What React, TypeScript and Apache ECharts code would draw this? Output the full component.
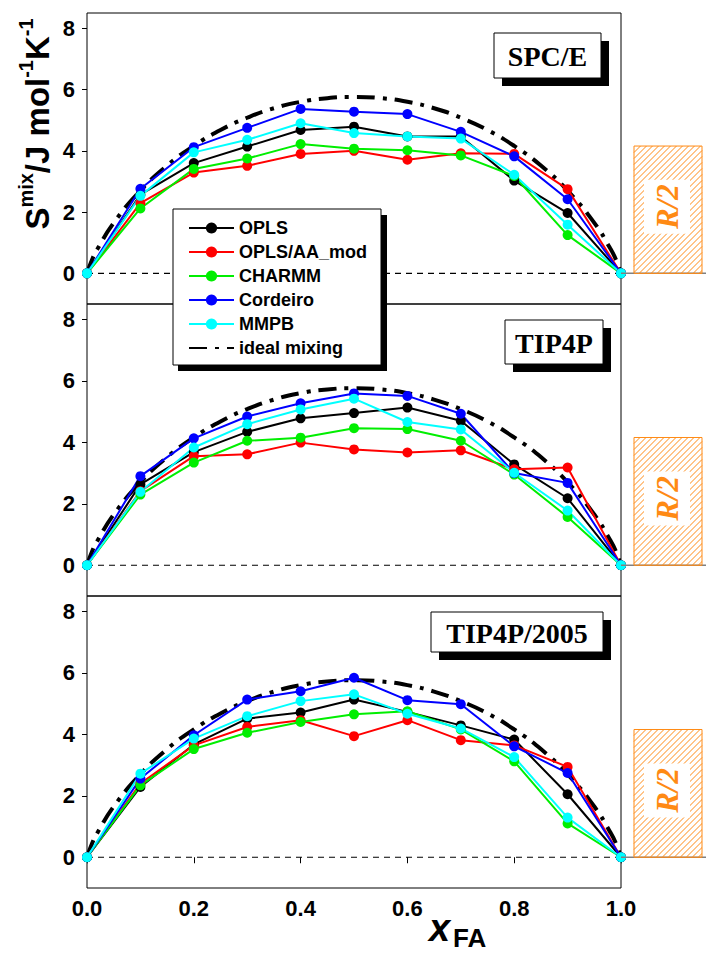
import React, { useEffect, useRef } from "react";
import * as echarts from "echarts";

// ---------------- data ----------------
const xValues = [0, 0.1, 0.2, 0.3, 0.4, 0.5, 0.6, 0.7, 0.8, 0.9, 1.0];
const xTickLabels = ["0.0", "0.2", "0.4", "0.6", "0.8", "1.0"];
const yTickValues = [0, 2, 4, 6, 8];
const seriesNames = ["OPLS", "OPLS/AA_mod", "CHARMM", "Cordeiro", "MMPB"];
const seriesColors = ["#000000", "#ff0000", "#00ee00", "#0000ff", "#00ffff"];
const idealName = "ideal mixing";
const panelNames = ["SPC/E", "TIP4P", "TIP4P/2005"];

// SPC/E panel
const spceOPLS = [0, 2.57, 3.6, 4.14, 4.68, 4.79, 4.47, 4.47, 3.03, 1.97, 0];
const spceAAmod = [0, 2.29, 3.29, 3.51, 3.9, 4.0, 3.71, 3.92, 3.9, 2.75, 0];
const spceCHARMM = [0, 2.12, 3.41, 3.75, 4.22, 4.07, 4.02, 3.85, 3.18, 1.25, 0];
const spceCordeiro = [0, 2.76, 4.12, 4.75, 5.37, 5.28, 5.2, 4.62, 3.82, 2.42, 0];
const spceMMPB = [0, 2.53, 3.95, 4.36, 4.9, 4.58, 4.47, 4.4, 3.22, 1.59, 0];

// TIP4P panel
const tip4pOPLS = [0, 2.63, 3.68, 4.34, 4.78, 4.95, 5.13, 4.7, 3.28, 2.18, 0];
const tip4pAAmod = [0, 2.41, 3.55, 3.61, 3.99, 3.77, 3.67, 3.74, 3.12, 3.18, 0];
const tip4pCHARMM = [0, 2.3, 3.34, 4.05, 4.15, 4.46, 4.43, 4.05, 2.95, 1.57, 0];
const tip4pCordeiro = [0, 2.9, 4.13, 4.84, 5.27, 5.59, 5.51, 4.93, 3.0, 2.68, 0];
const tip4pMMPB = [0, 2.39, 3.83, 4.59, 5.07, 5.42, 4.66, 4.42, 3.01, 1.78, 0];

// TIP4P/2005 panel
const t2005OPLS = [0, 2.29, 3.67, 4.51, 4.71, 5.13, 4.73, 4.29, 3.83, 2.05, 0];
const t2005AAmod = [0, 2.4, 3.64, 4.24, 4.46, 3.94, 4.46, 3.81, 3.64, 2.94, 0];
const t2005CHARMM = [0, 2.34, 3.52, 4.05, 4.4, 4.65, 4.75, 4.16, 3.12, 1.1, 0];
const t2005Cordeiro = [0, 2.56, 3.97, 5.13, 5.4, 5.84, 5.11, 4.98, 3.61, 2.74, 0];
const t2005MMPB = [0, 2.72, 3.86, 4.59, 5.08, 5.3, 4.67, 4.19, 3.26, 1.29, 0];

// ideal mixing curve (same in every panel)
const idealX = [0, 0.01, 0.02, 0.05, 0.1, 0.15, 0.2, 0.25, 0.3, 0.35, 0.4, 0.45, 0.5, 0.55, 0.6, 0.65, 0.7, 0.75, 0.8, 0.85, 0.9, 0.95, 0.98, 0.99, 1.0];
const idealY = [0, 0.47, 0.81, 1.65, 2.7, 3.52, 4.16, 4.68, 5.08, 5.39, 5.6, 5.72, 5.76, 5.72, 5.6, 5.39, 5.08, 4.68, 4.16, 3.52, 2.7, 1.65, 0.81, 0.47, 0];

const halfR = 4.157; // R/2 reference level

const panelData = [
  [spceOPLS, spceAAmod, spceCHARMM, spceCordeiro, spceMMPB],
  [tip4pOPLS, tip4pAAmod, tip4pCHARMM, tip4pCordeiro, tip4pMMPB],
  [t2005OPLS, t2005AAmod, t2005CHARMM, t2005Cordeiro, t2005MMPB],
];

// ---------------- layout ----------------
const gridLeft = 87;
const gridWidth = 534;
const gridTops = [13, 304, 596];
const gridHeights = [291, 292, 292];
const yMin = -1;
const yMax = 8.5;
const sans = "Liberation Sans";
const serif = "Liberation Serif";
const orange = "#ff8a14";

const labelBoxes = [
  { x: 494, y: 33, w: 107, h: 45 },
  { x: 505, y: 320, w: 98, h: 44 },
  { x: 431, y: 612, w: 172, h: 40 },
];

function yPix(p: number, v: number) {
  return gridTops[p] + ((yMax - v) / (yMax - yMin)) * gridHeights[p];
}

// diagonal hatching as one path string (decoration only)
function hatchPath(x0: number, y0: number, w: number, h: number, step: number) {
  const x1 = x0 + w;
  const y1 = y0 + h;
  let d = "";
  const start = Math.floor(x0 + y0) + 0.5 + step;
  for (let c = start; c < x1 + y1; c += step) {
    const xa = Math.max(x0, c - y1);
    const xb = Math.min(x1, c - y0);
    if (xb <= xa) continue;
    d += `M${xa.toFixed(2)} ${(c - xa).toFixed(2)}L${xb.toFixed(2)} ${(c - xb).toFixed(2)}`;
  }
  return d;
}

function buildOption() {
  const grid = gridTops.map((t, i) => ({
    left: gridLeft,
    top: t,
    width: gridWidth,
    height: gridHeights[i],
    show: true,
    borderColor: "#000",
    borderWidth: 1,
    backgroundColor: "transparent",
  }));

  const xAxis = [0, 1, 2].map((i) => ({
    type: "value",
    gridIndex: i,
    min: 0,
    max: 1,
    interval: 0.2,
    axisLine: { show: false },
    splitLine: { show: false },
    axisTick: { show: i === 2, length: 6, lineStyle: { color: "#000" } },
    axisLabel: {
      show: i === 2,
      margin: 9,
      formatter: (v: number) => xTickLabels[Math.round(v * 5)] ?? "",
      fontFamily: sans,
      fontWeight: "bold",
      fontSize: 22,
      color: "#000",
    },
  }));

  const yAxis = [0, 1, 2].map((i) => ({
    type: "value",
    gridIndex: i,
    min: yMin,
    max: yMax,
    axisLine: { show: false },
    splitLine: { show: false },
    axisTick: { show: true, length: 5, customValues: yTickValues, lineStyle: { color: "#000" } },
    axisLabel: {
      show: true,
      customValues: yTickValues,
      margin: 12,
      fontFamily: sans,
      fontWeight: "bold",
      fontSize: 22,
      color: "#000",
    },
  }));

  const series: any[] = [];
  for (let p = 0; p < 3; p++) {
    series.push({
      type: "line",
      name: "zero",
      xAxisIndex: p,
      yAxisIndex: p,
      data: [[0, 0], [1, 0]],
      symbol: "none",
      silent: true,
      lineStyle: { color: "#000", width: 1.2, type: [6, 5] },
      z: 1,
    });
    series.push({
      type: "line",
      name: idealName,
      xAxisIndex: p,
      yAxisIndex: p,
      data: idealX.map((x, i) => [x, idealY[i]]),
      smooth: true,
      symbol: "none",
      lineStyle: { color: "#000", width: 4, type: [18, 8, 4, 8] },
      itemStyle: { color: "rgba(0,0,0,0)" },
      z: 2,
    });
    seriesNames.forEach((name, k) => {
      series.push({
        type: "line",
        name,
        xAxisIndex: p,
        yAxisIndex: p,
        data: xValues.map((x, i) => [x, panelData[p][k][i]]),
        symbol: "circle",
        symbolSize: 10,
        lineStyle: { color: seriesColors[k], width: 2 },
        itemStyle: { color: seriesColors[k] },
        z: 3,
      });
    });
  }

  const graphic: any[] = [];

  // y axis title
  graphic.push({
    type: "text",
    x: 35,
    y: 124,
    rotation: Math.PI / 2,
    style: {
      text: "{b|S}{s|mix}{b|/J mol}{s|-1}{b|K}{s|-1}",
      align: "center",
      verticalAlign: "middle",
      textAlign: "center",
      textVerticalAlign: "middle",
      fill: "#000",
      rich: {
        b: { fontFamily: sans, fontWeight: "bold", fontSize: 33, lineHeight: 38, verticalAlign: "bottom", fill: "#000" },
        s: { fontFamily: sans, fontWeight: "bold", fontSize: 20, lineHeight: 20, verticalAlign: "top", fill: "#000" },
      },
    },
    z: 20,
  });

  // x axis title
  graphic.push({
    type: "text",
    x: 429,
    y: 928,
    style: {
      text: "x",
      fontFamily: sans,
      fontWeight: "bold",
      fontStyle: "italic",
      fontSize: 38,
      fill: "#000",
      align: "left",
      verticalAlign: "middle",
      textAlign: "left",
      textVerticalAlign: "middle",
    },
    z: 20,
  });
  graphic.push({
    type: "text",
    x: 453,
    y: 938,
    style: {
      text: "FA",
      fontFamily: sans,
      fontWeight: "bold",
      fontSize: 26,
      fill: "#000",
      align: "left",
      verticalAlign: "middle",
      textAlign: "left",
      textVerticalAlign: "middle",
    },
    z: 20,
  });

  // panel name boxes
  labelBoxes.forEach((b, p) => {
    graphic.push({ type: "rect", shape: { x: b.x + 8, y: b.y + 8, width: b.w, height: b.h }, style: { fill: "#000" }, z: 20 });
    graphic.push({ type: "rect", shape: { x: b.x, y: b.y, width: b.w, height: b.h }, style: { fill: "#fff", stroke: "#000", lineWidth: 1 }, z: 21 });
    graphic.push({
      type: "text",
      x: b.x + b.w / 2,
      y: b.y + b.h / 2 + 1,
      style: {
        text: panelNames[p],
        fontFamily: serif,
        fontWeight: "bold",
        fontSize: 28,
        fill: "#000",
        align: "center",
        verticalAlign: "middle",
        textAlign: "center",
        textVerticalAlign: "middle",
      },
      z: 22,
    });
  });

  // legend shadow
  graphic.push({ type: "rect", shape: { x: 178, y: 215, width: 209, height: 156 }, style: { fill: "#000" }, z: 8 });

  // R/2 boxes and zero extensions
  for (let p = 0; p < 3; p++) {
    const y0 = yPix(p, 0);
    const yt = yPix(p, halfR);
    graphic.push({
      type: "line",
      shape: { x1: gridLeft + gridWidth, y1: y0, x2: 706, y2: y0 },
      style: { stroke: "#808080", lineWidth: 1.5 },
      z: 4,
    });
    const bx = 634;
    const bw = 68;
    const shapeName = "hatch" + p;
    echarts.graphic.registerShape(
      shapeName,
      (echarts.graphic as any).extendPath(hatchPath(bx, yt, bw, y0 - yt, 6), {})
    );
    graphic.push({
      type: shapeName,
      x: 0,
      y: 0,
      scaleX: 1,
      scaleY: 1,
      style: { fill: "none", stroke: orange, lineWidth: 1 },
      z: 5,
    });
    graphic.push({ type: "rect", shape: { x: bx, y: yt, width: bw, height: y0 - yt }, style: { fill: "none", stroke: orange, lineWidth: 1 }, z: 6 });
    const cy = (yt + y0) / 2 - 3;
    graphic.push({ type: "rect", shape: { x: bx + 10, y: cy - 27, width: bw - 22, height: 54 }, style: { fill: "#fff" }, z: 6 });
    graphic.push({
      type: "text",
      x: bx + bw / 2 - 1,
      y: cy,
      rotation: Math.PI / 2,
      style: {
        text: "R/2",
        fontFamily: serif,
        fontWeight: "bold",
        fontStyle: "italic",
        fontSize: 31,
        fill: orange,
        align: "center",
        verticalAlign: "middle",
        textAlign: "center",
        textVerticalAlign: "middle",
      },
      z: 7,
    });
  }

  return {
    animation: false,
    backgroundColor: "#fff",
    grid,
    xAxis,
    yAxis,
    legend: {
      data: [...seriesNames, idealName],
      orient: "vertical",
      left: 173,
      top: 209,
      itemWidth: 45,
      itemHeight: 14,
      itemGap: 6,
      padding: [10, 14, 8, 15],
      backgroundColor: "#fff",
      borderColor: "#000",
      borderWidth: 1,
      borderRadius: 0,
      selectedMode: false,
      textStyle: { fontFamily: sans, fontWeight: "bold", fontSize: 18, color: "#000" },
      z: 10,
    },
    series,
    graphic,
  };
}

export default function App() {
  const ref = useRef<HTMLDivElement>(null);
  useEffect(() => {
    if (!ref.current) return;
    const chart = echarts.init(ref.current, undefined, { renderer: "svg" });
    chart.setOption(buildOption() as any);
    return () => chart.dispose();
  }, []);
  return (
    <div
      ref={ref}
      style={{ position: "absolute", left: 0, top: 0, width: 706, height: 954, background: "#fff" }}
    />
  );
}
